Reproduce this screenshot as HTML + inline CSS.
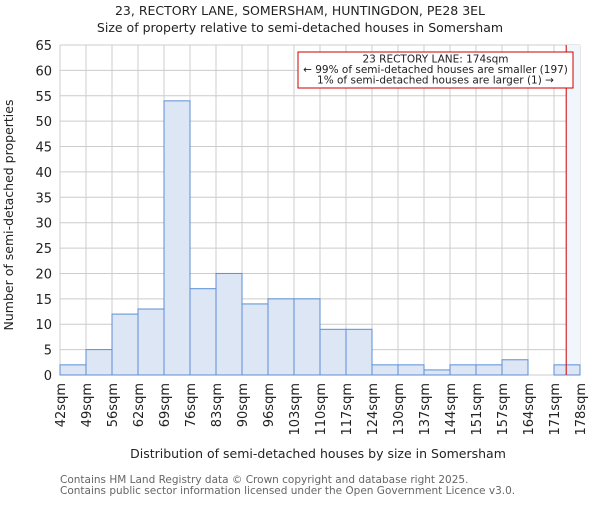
<!DOCTYPE html>
<html><head><meta charset="utf-8"><style>
body{margin:0;background:#fff}
svg{font-family:"DejaVu Sans","Liberation Sans",sans-serif}
</style></head><body>
<svg id="c" width="600" height="500" viewBox="0 0 600 500" xmlns="http://www.w3.org/2000/svg">
<text x="300" y="15" font-size="12.5" text-anchor="middle" fill="#222">23, RECTORY LANE, SOMERSHAM, HUNTINGDON, PE28 3EL</text>
<text x="300" y="32" font-size="12.5" text-anchor="middle" fill="#222">Size of property relative to semi-detached houses in Somersham</text>
<g id="grid"></g>
<g id="bars"></g>
<g id="axes"></g>
<text x="318" y="458" font-size="12.5" text-anchor="middle" fill="#222">Distribution of semi-detached houses by size in Somersham</text>
<text transform="translate(13,215) rotate(-90)" font-size="12.5" text-anchor="middle" fill="#222">Number of semi-detached properties</text>
<text x="60" y="483" font-size="10.5" fill="#666">Contains HM Land Registry data © Crown copyright and database right 2025.</text>
<text x="60" y="494" font-size="10.5" fill="#666">Contains public sector information licensed under the Open Government Licence v3.0.</text>
</svg>
<script>
const binLabels=["42sqm","49sqm","56sqm","62sqm","69sqm","76sqm","83sqm","90sqm","96sqm","103sqm","110sqm","117sqm","124sqm","130sqm","137sqm","144sqm","151sqm","157sqm","164sqm","171sqm","178sqm"];
const counts=[2,5,12,13,54,17,20,14,15,15,9,9,2,2,1,2,2,3,0,2];
const yTicks=[0,5,10,15,20,25,30,35,40,45,50,55,60,65];
const binStart=42, binWidth=6.78, propertySize=174;
const X0=60,X1=580,Y0=375,Y1=45,YMAX=65;
const NS="http://www.w3.org/2000/svg";
const nb=counts.length;
const xb=i=>X0+(X1-X0)*i/nb;
const xv=v=>X0+(X1-X0)*(v-binStart)/(binWidth*nb);
const y=v=>Y0-(Y0-Y1)*v/YMAX;
function mk(t,a,p){const e=document.createElementNS(NS,t);for(const k in a)e.setAttribute(k,a[k]);p.appendChild(e);return e;}
const grid=document.getElementById('grid'),bars=document.getElementById('bars'),axes=document.getElementById('axes');
yTicks.forEach(t=>{
 const l=mk('line',{x1:X0,x2:X1,y1:y(t),y2:y(t),stroke:'#ccc','stroke-width':1},grid);
 
 
 const tx=mk('text',{x:X0-8,y:y(t)+5,'font-size':13,'text-anchor':'end',fill:'#222'},axes);
 tx.textContent=t;
 
 
});
binLabels.forEach((s,i)=>{
 const l=mk('line',{x1:xb(i),x2:xb(i),y1:Y1,y2:Y0,stroke:'#ccc','stroke-width':1},grid);
 
 
 const tx=mk('text',{transform:`translate(${xb(i)+5},${Y0+8}) rotate(-90)`,'font-size':13,'text-anchor':'end',fill:'#222'},axes);
 tx.textContent=s;
 
 
});
const px=xv(propertySize);
const sh=mk('rect',{x:px,y:Y1,width:X1-px,height:Y0-Y1,fill:'#f1f5fc'},grid);


counts.forEach((c,i)=>{
 if(c<=0)return;
 const r=mk('rect',{x:xb(i),y:y(c),width:xb(i+1)-xb(i),height:Y0-y(c),fill:'#dce6f4',stroke:'#5b8fd6','stroke-width':1},bars);
 
 
});
const rl=mk('line',{x1:px,x2:px,y1:Y1,y2:Y0,stroke:'#c00','stroke-width':1},bars);


const bx=mk('rect',{x:298,y:52,width:275,height:36,fill:'#fff',stroke:'#c00','stroke-width':1},bars);


["23 RECTORY LANE: 174sqm","← 99% of semi-detached houses are smaller (197)","1% of semi-detached houses are larger (1) →"].forEach((s,i)=>{
 const t=mk('text',{x:435.5,y:62.5+i*10.5,'font-size':10.5,'text-anchor':'middle',fill:'#222'},bars);
 t.textContent=s;
 
 
});
</script>
</body></html>
